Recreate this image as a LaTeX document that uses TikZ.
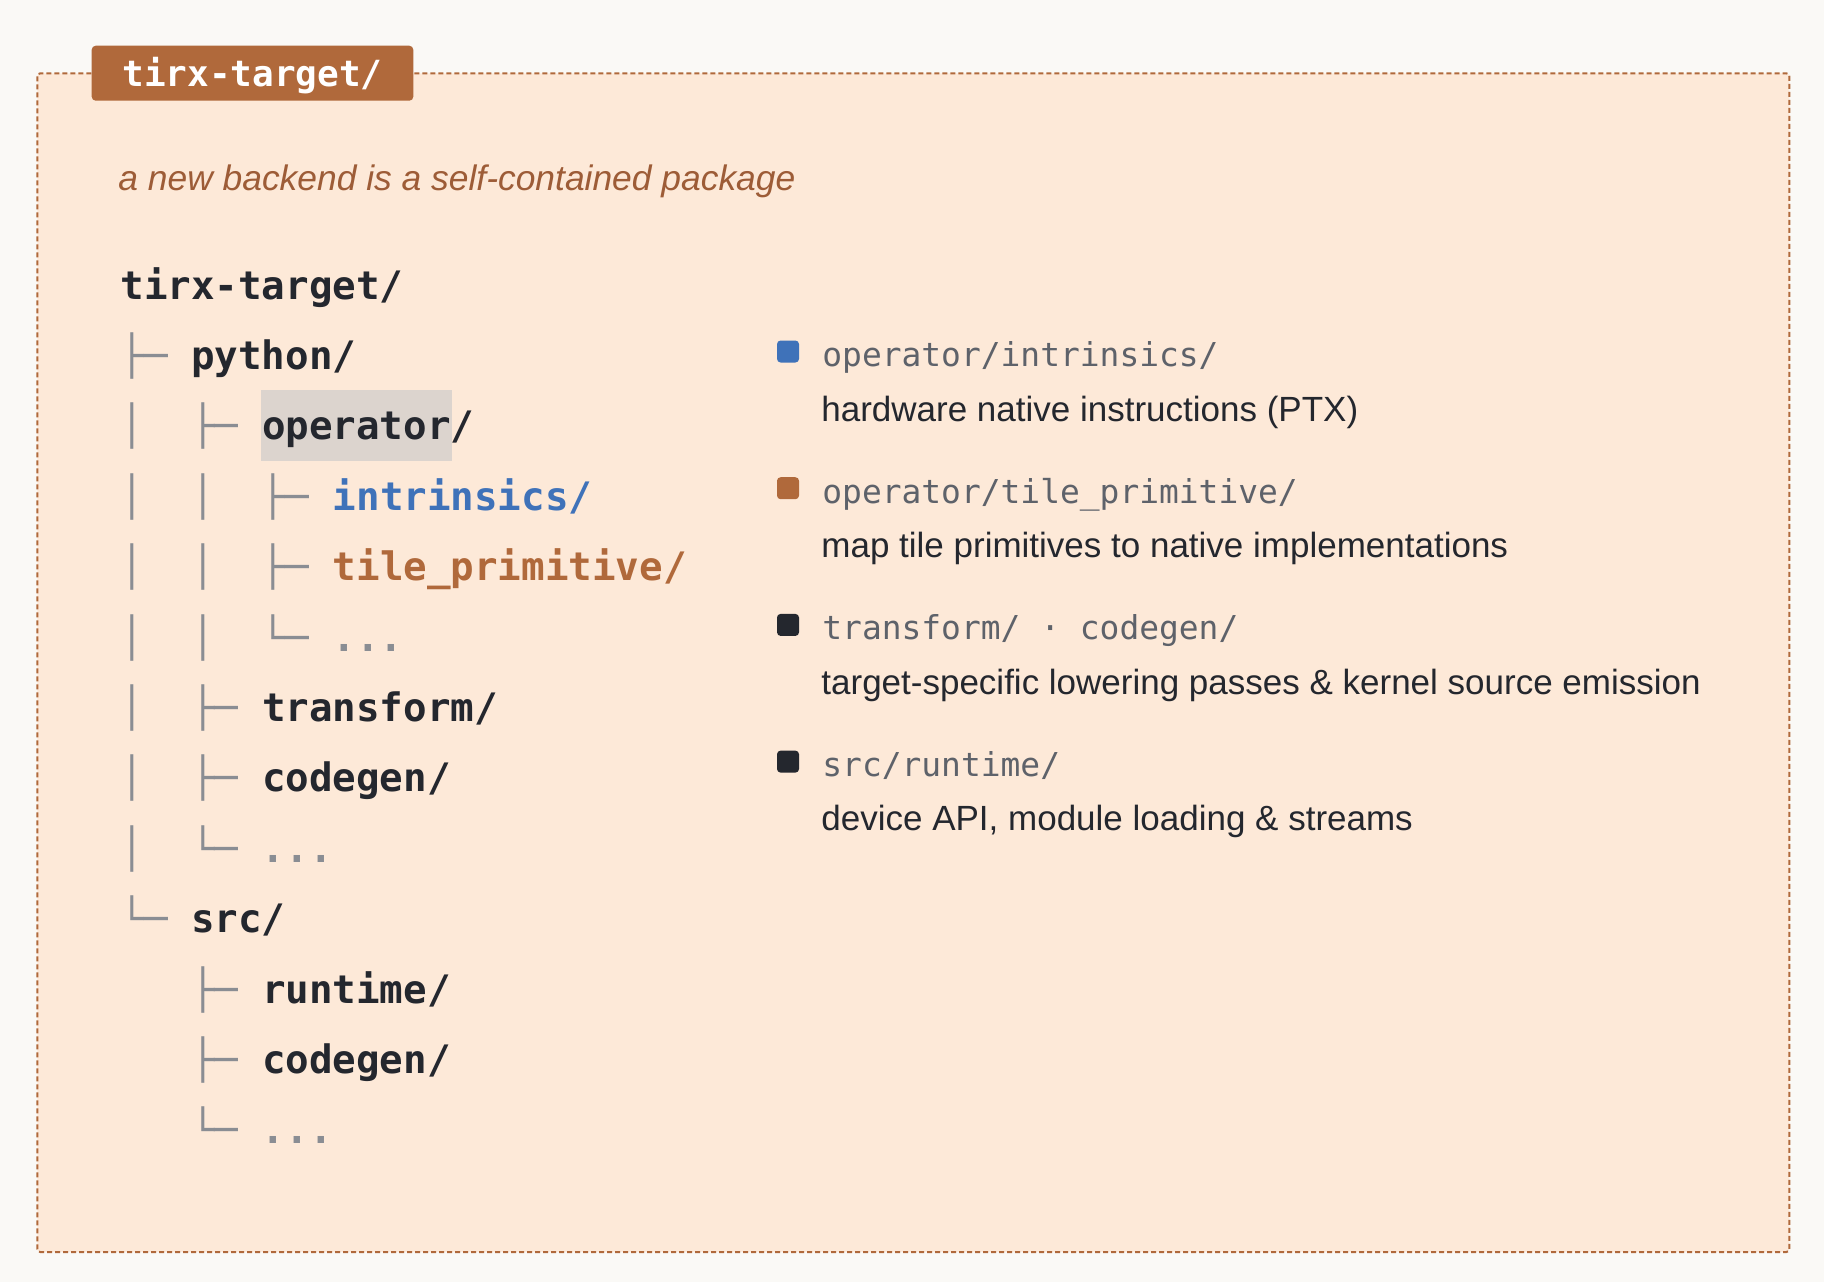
\documentclass[tikz,border=0pt]{standalone}
\usepackage{fontspec}
\setmainfont{Liberation Sans}
\newfontfamily\menlo{DejaVu Sans Mono}
\usepackage{tikz}
\usetikzlibrary{positioning}
\definecolor{tgpage}{HTML}{FAF9F6}
\definecolor{tgpeach}{HTML}{FDE9D8}
\definecolor{tgbrown}{HTML}{B0693B}
\definecolor{tgnote}{HTML}{9D5C37}
\definecolor{tgblue}{HTML}{3F72B9}
\definecolor{tgink}{HTML}{24272E}
\definecolor{tggray}{HTML}{8A8D93}
\definecolor{tgpath}{HTML}{5E626A}
\definecolor{tghilite}{HTML}{DCD4CE}
\newcommand{\tw}[1]{\textcolor{tggray}{#1}}

\begin{document}
\begin{tikzpicture}[x=0.5pt, y=-0.5pt,
  frame/.style={draw=tgbrown, line width=1pt, dash pattern=on 2.5pt off 1.5pt, fill=tgpeach, rounded corners=1.5pt},
  header/.style={fill=tgbrown, rounded corners=2pt, inner sep=0pt, minimum width=160.8pt, minimum height=27.5pt, text height=13.4pt, text depth=0.6pt, text=white, font=\menlo\bfseries\fontsize{18}{20}\selectfont},
  caption/.style={anchor=base west, inner sep=0pt, text=tgnote, font=\itshape\fontsize{17.7}{20}\selectfont},
  dir/.style={anchor=base west, inner sep=0pt, text=tgink, font=\menlo\bfseries\fontsize{19.6}{22}\selectfont},
  swatch/.style={minimum size=11pt, inner sep=0pt, rounded corners=1.8pt},
  pathlabel/.style={anchor=base west, inner sep=0pt, text=tgpath, font=\menlo\fontsize{16.45}{19}\selectfont},
  desc/.style={anchor=base west, inner sep=0pt, text=tgink, font=\fontsize{17.5}{20}\selectfont}
]
\fill[tgpage] (0,0) rectangle (1824,1282);
\draw[frame] (37.3,73.3) rectangle (1789.3,1252);
\node[header] (title) at (252.5,73.2) {tirx-target/};
\node[caption] (tagline) at (118,190.5) {a new backend is a self-contained package};

\fill[tghilite] (261,390) rectangle (451.5,460.7);
\node[dir] (root) at (120,299) {tirx-target/};
\node[dir] (python) at (120,369.4) {\tw{├─~}python/};
\node[dir] (operator) at (120,439.8) {\tw{│~~├─~}operator/};
\node[dir] (intrinsics) at (120,510.2) {\tw{│~~│~~├─~}\textcolor{tgblue}{intrinsics/}};
\node[dir] (tileprim) at (120,580.6) {\tw{│~~│~~├─~}\textcolor{tgbrown}{tile\_primitive/}};
\node[dir] (opmore) at (120,651) {\tw{│~~│~~└─~...}};
\node[dir] (transform) at (120,721.4) {\tw{│~~├─~}transform/};
\node[dir] (pycodegen) at (120,791.8) {\tw{│~~├─~}codegen/};
\node[dir] (pymore) at (120,862.2) {\tw{│~~└─~...}};
\node[dir] (src) at (120,932.6) {\tw{└─~}src/};
\node[dir] (runtime) at (120,1003) {\tw{~~~├─~}runtime/};
\node[dir] (srccodegen) at (120,1073.4) {\tw{~~~├─~}codegen/};
\node[dir] (srcmore) at (120,1143.8) {\tw{~~~└─~...}};

\node[swatch, fill=tgblue] (m1) at (788,351.5) {};
\node[pathlabel] (p1) at (822,366.5) {operator/intrinsics/};
\node[desc] (d1) at (821,421) {hardware native instructions (PTX)};
\node[swatch, fill=tgbrown] (m2) at (788,488.2) {};
\node[pathlabel] (p2) at (822,503) {operator/tile\_primitive/};
\node[desc] (d2) at (821,557.5) {map tile primitives to native implementations};
\node[swatch, fill=tgink] (m3) at (788,624.9) {};
\node[pathlabel] (p3) at (822,639.5) {transform/~·~codegen/};
\node[desc] (d3) at (821,694) {target-specific lowering passes \& kernel source emission};
\node[swatch, fill=tgink] (m4) at (788,761.6) {};
\node[pathlabel] (p4) at (822,776) {src/runtime/};
\node[desc] (d4) at (821,830.5) {device API, module loading \& streams};
\end{tikzpicture}
\end{document}
